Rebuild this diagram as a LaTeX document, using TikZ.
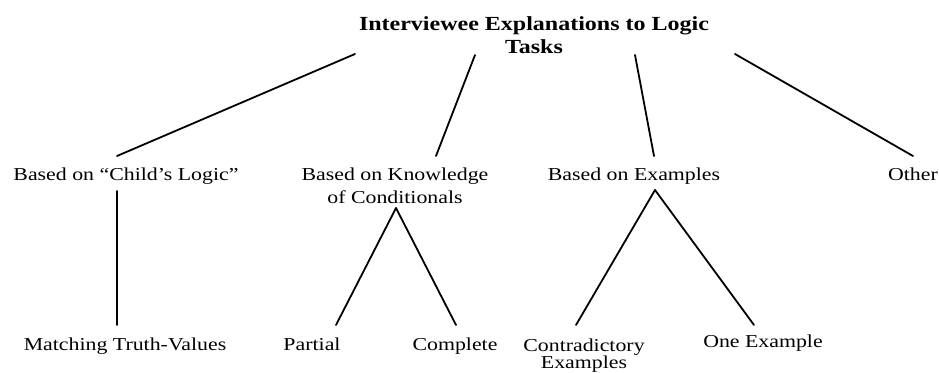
\documentclass[tikz,border=0pt]{standalone}
\usepackage{fontspec}
\setmainfont{Liberation Serif}[FakeStretch=1.2]
\newcommand\twolines[3]{\vtop{\baselineskip=#3pt\lineskiplimit=-20pt\halign{\hfil##\hfil\cr #1\cr #2\cr}}}
\begin{document}
\begin{tikzpicture}[x=1pt,y=-1pt,
  lbl/.style={inner sep=0pt, anchor=base, font=\fontsize{18.2}{23}\selectfont},
  ttl/.style={inner sep=0pt, anchor=base, font=\fontsize{20}{23}\selectfont\bfseries},
  conn/.style={line width=1.8pt, line cap=round}]
\useasboundingbox (0,0) rectangle (939,372);
\node[ttl] (title) at (534,30) {\twolines{Interviewee Explanations to Logic}{Tasks}{23}};
\node[lbl] (child) at (126,180) {Based on “Child’s Logic”};
\node[lbl] (know) at (395,180) {\twolines{Based on Knowledge}{of Conditionals}{23}};
\node[lbl] (examples) at (634,180) {Based on Examples};
\node[lbl] (other) at (913,180) {Other};
\node[lbl] (matching) at (125,350) {Matching Truth-Values};
\node[lbl] (partial) at (312,350) {Partial};
\node[lbl] (complete) at (455,350) {Complete};
\node[lbl] (contra) at (584,351) {\twolines{Contradictory}{Examples}{17}};
\node[lbl] (one) at (763,347) {One Example};
\draw[conn] ([xshift=-179pt,yshift=-24pt]title.base) -- ([xshift=-9pt,yshift=24pt]child.base);
\draw[conn] ([xshift=-59pt,yshift=-25pt]title.base) -- ([xshift=41pt,yshift=24pt]know.base);
\draw[conn] ([xshift=101pt,yshift=-25pt]title.base) -- ([xshift=20pt,yshift=24pt]examples.base);
\draw[conn] ([xshift=201pt,yshift=-24pt]title.base) -- ([xshift=0pt,yshift=24pt]other.base);
\draw[conn] ([xshift=-9pt,yshift=-11pt]child.base) -- ([xshift=-8pt,yshift=25pt]matching.base);
\draw[conn] ([xshift=1pt,yshift=-28pt]know.base) -- ([xshift=24pt,yshift=25pt]partial.base);
\draw[conn] ([xshift=1pt,yshift=-28pt]know.base) -- ([xshift=1pt,yshift=25pt]complete.base);
\draw[conn] ([xshift=21pt,yshift=-10pt]examples.base) -- ([xshift=-8pt,yshift=26pt]contra.base);
\draw[conn] ([xshift=21pt,yshift=-10pt]examples.base) -- ([xshift=-9pt,yshift=22pt]one.base);
\end{tikzpicture}
\end{document}
